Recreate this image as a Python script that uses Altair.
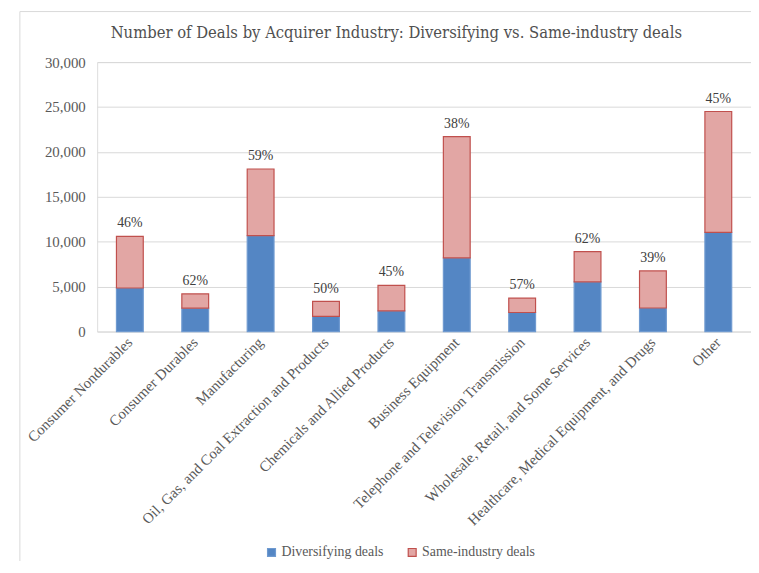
import altair as alt
import pandas as pd

categories = [
    "Consumer Nondurables",
    "Consumer Durables",
    "Manufacturing",
    "Oil, Gas, and Coal Extraction and Products",
    "Chemicals and Allied Products",
    "Business Equipment",
    "Telephone and Television Transmission",
    "Wholesale, Retail, and Some Services",
    "Healthcare, Medical Equipment, and Drugs",
    "Other",
]
diversifying = [4850, 2600, 10680, 1680, 2300, 8200, 2120, 5530, 2620, 11050]
same_industry = [5750, 1600, 7420, 1670, 2850, 13500, 1600, 3370, 4130, 13450]
pct_labels = ["46%", "62%", "59%", "50%", "45%", "38%", "57%", "62%", "39%", "45%"]
series = ["Diversifying deals", "Same-industry deals"]
y_ticks = [0, 5000, 10000, 15000, 20000, 25000, 30000]

rows = []
for c, d, s in zip(categories, diversifying, same_industry):
    rows.append({"category": c, "series": series[0], "deals": d, "order": 0})
    rows.append({"category": c, "series": series[1], "deals": s, "order": 1})
df = pd.DataFrame(rows)

totals = pd.DataFrame({
    "category": categories,
    "total": [d + s for d, s in zip(diversifying, same_industry)],
    "label": pct_labels,
})

SERIF = "Liberation Serif"
TXT = "#595959"

x_enc = alt.X(
    "category:N",
    sort=categories,
    title=None,
    scale=alt.Scale(paddingInner=0.59, paddingOuter=0.295),
    axis=alt.Axis(
        labelAngle=-45, labelAlign="right", labelBaseline="middle",
        labelFont=SERIF, labelFontSize=15, labelColor=TXT,
        labelPadding=8, ticks=False, domain=False, grid=False,
        labelLimit=400,
    ),
)

bars = alt.Chart(df).mark_bar(strokeWidth=1.2).encode(
    x=x_enc,
    y=alt.Y(
        "deals:Q",
        stack="zero",
        title=None,
        scale=alt.Scale(domain=[0, 30000], nice=False),
        axis=alt.Axis(
            values=y_ticks, format=",.0f", labelFont=SERIF, labelFontSize=15,
            labelColor=TXT, labelPadding=12, ticks=False, domain=False,
            gridColor="#D9D9D9", gridWidth=1,
        ),
    ),
    fill=alt.Fill(
        "series:N",
        scale=alt.Scale(domain=series, range=["#5486C4", "#E2A6A4"]),
        legend=alt.Legend(
            title=None, orient="none", direction="horizontal",
            legendX=169, legendY=488,
            symbolType="square", symbolSize=64, symbolStrokeWidth=1.2,
            labelFont=SERIF, labelFontSize=14, labelColor=TXT,
            labelOffset=3, columnPadding=21,
        ),
    ),
    stroke=alt.Stroke(
        "series:N",
        scale=alt.Scale(domain=series, range=["#6F9AD0", "#C0504D"]),
        legend=None,
    ),
    order=alt.Order("order:Q"),
)

labels = alt.Chart(totals).mark_text(
    font=SERIF, fontSize=14, color="#404040", baseline="alphabetic", dy=-9
).encode(
    x=alt.X("category:N", sort=categories),
    y=alt.Y("total:Q"),
    text="label:N",
)

frame_df = pd.DataFrame({"k": [0]})
frame_left = alt.Chart(frame_df).mark_rule(color="#D9D9D9", strokeWidth=1).encode(
    x=alt.value(-78), y=alt.value(-51), y2=alt.value(520)
)
frame_top = alt.Chart(frame_df).mark_rule(color="#D9D9D9", strokeWidth=1).encode(
    x=alt.value(-78), x2=alt.value(680), y=alt.value(-51)
)

chart = alt.layer(frame_left, frame_top, bars, labels).properties(
    width=660,
    height=272,
    title=alt.TitleParams(
        "Number of Deals by Acquirer Industry: Diversifying vs. Same-industry deals",
        font="DejaVu Serif Condensed", fontSize=16.6, fontWeight="normal",
        color="#505050", anchor="middle", frame="group", dx=-28, offset=20, dy=51,
    ),
    autosize=alt.AutoSizeParams(type="none"),
    padding={"left": 90, "top": 52, "right": 0, "bottom": 229},
).configure_view(stroke=None).configure(background="white", font=SERIF)

chart.save("out.html", embed_options={"renderer": "svg", "actions": False})
